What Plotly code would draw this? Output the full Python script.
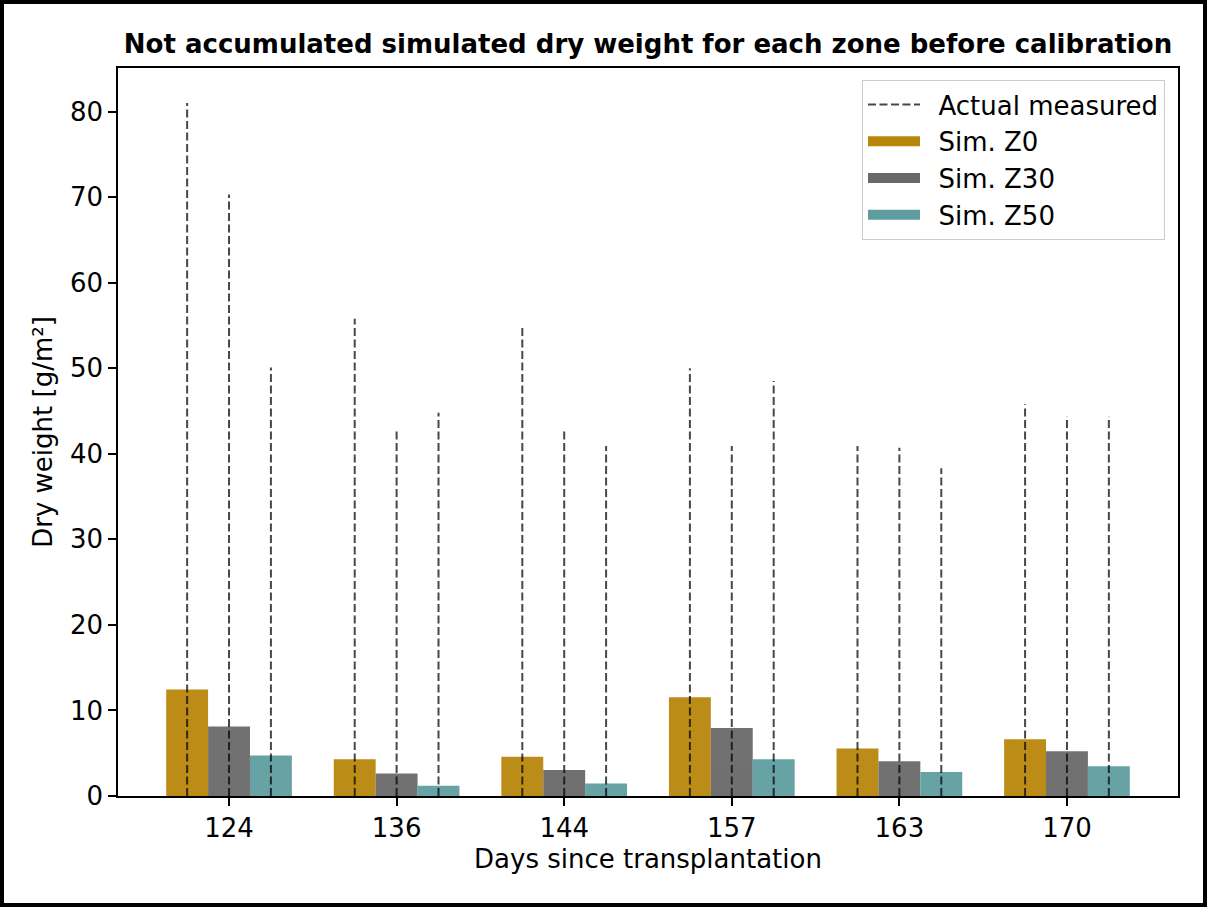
import plotly.graph_objects as go

days = ["124", "136", "144", "157", "163", "170"]
sim_z0 = [12.44, 4.29, 4.60, 11.54, 5.54, 6.63]
sim_z30 = [8.11, 2.62, 3.04, 7.96, 4.06, 5.23]
sim_z50 = [4.72, 1.21, 1.45, 4.29, 2.81, 3.47]
meas_z0 = [81.0, 55.8, 54.9, 50.0, 40.9, 45.8]
meas_z30 = [70.3, 43.0, 43.0, 40.9, 40.7, 44.4]
meas_z50 = [50.1, 44.8, 40.9, 48.5, 38.3, 44.4]

colors = {"Z0": "#B8860B", "Z30": "#696969", "Z50": "#5F9EA0"}
bar_w = 0.25
offsets = [-bar_w, 0.0, bar_w]
idx = list(range(len(days)))

FONT = "DejaVu Sans"
FS = 26
fig = go.Figure()

for name, vals, off in [("Z0", sim_z0, -bar_w), ("Z30", sim_z30, 0.0), ("Z50", sim_z50, bar_w)]:
    fig.add_trace(go.Bar(
        x=[i + off for i in idx], y=vals, width=bar_w,
        marker=dict(color=colors[name], line=dict(width=0)),
        opacity=0.95, showlegend=False, name="Sim. " + name,
    ))

lx, ly = [], []
for meas, off in zip([meas_z0, meas_z30, meas_z50], offsets):
    for i, v in zip(idx, meas):
        lx += [i + off, i + off, None]
        ly += [0, v, None]
NB = "\u00a0\u2009"
fig.add_trace(go.Scatter(
    x=lx, y=ly, mode="lines", name=NB + "Actual measured",
    line=dict(color="rgba(0,0,0,0.72)", width=2, dash="8px,3.5px"),
    legendgroup="a", legendrank=1,
))

for k, (name, col) in enumerate(colors.items()):
    fig.add_trace(go.Scatter(
        x=[None], y=[None], mode="lines", name=NB + "Sim. " + name,
        line=dict(color=col, width=18), legendgroup=name, legendrank=2 + k,
    ))

W, H = 1207, 907
L, R, T, B = 118, 29, 68, 111
pw, ph = W - L - R, H - T - B

def px(xp):
    return (xp - L) / pw

def py(yp):
    return (H - B - yp) / ph

fig.update_layout(
    width=W, height=H,
    margin=dict(l=L, r=R, t=T, b=B),
    paper_bgcolor="white", plot_bgcolor="white",
    font=dict(family=FONT, size=FS, color="black"),
    barmode="overlay",
    title=dict(text="<b>Not accumulated simulated dry weight for each zone before calibration</b>",
               xref="container", x=648 / W, xanchor="center",
               yref="container", y=1 - 44 / H, yanchor="middle",
               font=dict(family=FONT, size=FS, color="black")),
    legend=dict(x=px(1165), xanchor="right", y=py(80), yanchor="top",
                bgcolor="white", bordercolor="#cccccc", borderwidth=1,
                font=dict(family=FONT, size=FS), itemwidth=52,
                traceorder="grouped", tracegroupgap=0),
    showlegend=True,
)
fig.update_xaxes(
    range=[-0.6625, 5.6625], tickmode="array", tickvals=idx, ticktext=days,
    showgrid=False, zeroline=False, showline=True, linecolor="black", linewidth=1.6,
    mirror=True, ticks="outside", ticklen=8, tickwidth=1.6, tickcolor="black",
    title=dict(text="Days since transplantation", font=dict(size=FS), standoff=8),
    tickfont=dict(size=FS),
)
fig.update_yaxes(
    range=[0, 85.1], tickmode="linear", tick0=0, dtick=10,
    showgrid=False, zeroline=False, showline=True, linecolor="black", linewidth=1.6,
    mirror=True, ticks="outside", ticklen=8, tickwidth=1.6, tickcolor="black",
    title=dict(text="Dry weight [g/m²]", font=dict(size=FS), standoff=10),
    tickfont=dict(size=FS),
)
fig.add_shape(type="rect", xref="paper", yref="paper",
              x0=px(2), x1=px(W - 2), y0=py(H - 2), y1=py(2),
              line=dict(color="black", width=4), fillcolor="rgba(0,0,0,0)", layer="above")

fig.write_html("out.html")
